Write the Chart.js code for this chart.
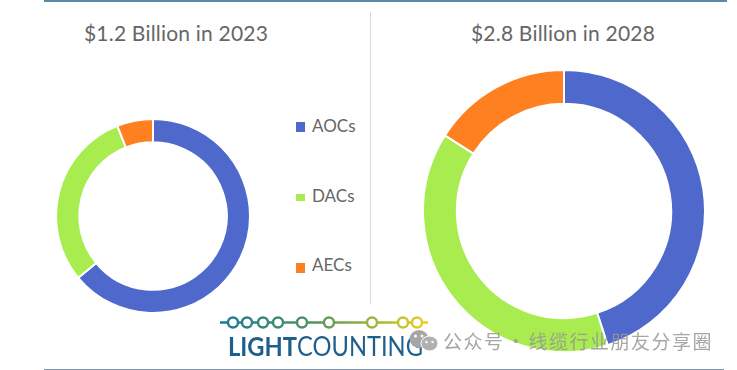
<!DOCTYPE html>
<html>
<head>
<meta charset="utf-8">
<script src="https://cdn.jsdelivr.net/npm/chart.js@4"></script>
<style>
  html, body { margin: 0; padding: 0; background: #fff; }
  #page { position: relative; width: 737px; height: 370px; overflow: hidden; font-family: Lato, "Open Sans", sans-serif; color: #666; }
  #page > * { position: absolute; }
  canvas { display: block; }
  .title { font-size: 21px; white-space: nowrap; transform: translateX(-50%); line-height: 26px; letter-spacing: 0.2px; }
  .legend-item { position: absolute; left: 312px; font-size: 17px; line-height: 20px; white-space: nowrap; }
  .swatch { position: absolute; left: 296px; width: 9px; }
</style>
</head>
<body>
<div id="page">
  <div style="left:44px;top:0;width:683px;height:2px;background:#5c8aa3"></div>
  <div style="left:44px;top:369px;width:680px;height:1px;background:#7f9bb3"></div>
  <div style="left:370px;top:12px;width:1px;height:292px;background:#d9d9d9"></div>

  <div class="title" id="title0" style="left:176px;top:20px"></div>
  <div class="title" id="title1" style="left:563px;top:20px"></div>

  <div style="left:55px;top:118px;width:196px;height:196px"><canvas id="donut0" width="196" height="196"></canvas></div>
  <div style="left:422px;top:69px;width:284px;height:284px"><canvas id="donut1" width="284" height="284"></canvas></div>

  <div id="legend" style="left:0;top:0"></div>

  <svg style="left:218px;top:312px" width="222" height="48">
    <defs>
      <linearGradient id="lg" gradientUnits="userSpaceOnUse" x1="2" x2="210" y1="0" y2="0">
        <stop offset="0" stop-color="#1a7896"/><stop offset="0.45" stop-color="#52945f"/><stop offset="0.75" stop-color="#a5b53a"/><stop offset="1" stop-color="#ebd01f"/>
      </linearGradient>
    </defs>
    <g fill="#fff" stroke="url(#lg)" stroke-width="2.4">
      <path d="M2 10.5H210" fill="none"/>
      <circle cx="15" cy="10.5" r="5"/><circle cx="29" cy="10.5" r="5"/><circle cx="45" cy="10.5" r="5"/>
      <circle cx="60" cy="10.5" r="5"/><circle cx="84" cy="10.5" r="5"/><circle cx="111" cy="10.5" r="5"/>
      <circle cx="154" cy="10.5" r="5"/><circle cx="185" cy="10.5" r="5"/><circle cx="199" cy="10.5" r="5"/>
    </g>
    <text x="10" y="44" font-family="Lato" font-size="26" fill="#1f5f8b" textLength="195" lengthAdjust="spacingAndGlyphs"><tspan font-weight="700">LIGHT</tspan>COUNTING</text>
  </svg>

  <svg style="left:409px;top:329px" width="30" height="23">
    <ellipse cx="10" cy="10" rx="9.5" ry="9" fill="#a6a6a6"/>
    <ellipse cx="20.5" cy="14.5" rx="8.5" ry="7.5" fill="#b0b0b0" stroke="#fff"/>
    <circle cx="6.5" cy="7" r="1.5" fill="#fff"/><circle cx="13" cy="7" r="1.5" fill="#fff"/>
    <circle cx="17.5" cy="13" r="1.2" fill="#fff"/><circle cx="23.5" cy="13" r="1.2" fill="#fff"/>
  </svg>
  <div style="left:443px;top:328px;font:19px/26px 'Noto Sans CJK SC';color:rgba(150,150,150,0.85);white-space:nowrap;letter-spacing:1.5px;word-spacing:-4px">公众号 · 线缆行业朋友分享圈</div>
</div>

<script>
const categories = ["AOCs", "DACs", "AECs"];
const colors = ["#4f68cc", "#a8ec50", "#ff8020"];
const titles = ["$1.2 Billion in 2023", "$2.8 Billion in 2028"];
const values2023 = [64, 30, 6];
const values2028 = [45, 39, 16];

function makeDonut(id, values) {
  return new Chart(document.getElementById(id), {
    type: "doughnut",
    data: {
      labels: categories,
      datasets: [{
        data: values,
        backgroundColor: colors,
        borderColor: "#fff",
        borderWidth: 2
      }]
    },
    options: {
      responsive: false,
      animation: false,
      cutout: "76%",
      plugins: { legend: { display: false }, tooltip: { enabled: false } }
    }
  });
}

document.getElementById("title0").textContent = titles[0];
document.getElementById("title1").textContent = titles[1];

makeDonut("donut0", values2023);
makeDonut("donut1", values2028);

// legend sits between the two rings, green swatch is a bit shorter in the original
const legendTextTops = [116, 186, 255];
const swatches = [[122, 10], [194, 7], [263, 10]];
const legend = document.getElementById("legend");
categories.forEach((name, i) => {
  const sw = document.createElement("div");
  sw.className = "swatch";
  sw.style.cssText = "top:" + swatches[i][0] + "px;height:" + swatches[i][1] + "px;background:" + colors[i];
  legend.appendChild(sw);
  const row = document.createElement("div");
  row.className = "legend-item";
  row.style.top = legendTextTops[i] + "px";
  row.textContent = name;
  legend.appendChild(row);
});
</script>
</body>
</html>
